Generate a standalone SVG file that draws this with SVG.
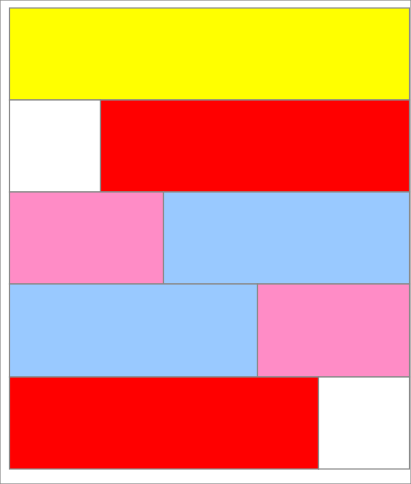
<svg xmlns="http://www.w3.org/2000/svg" width="411" height="484" viewBox="0 0 411 484">
<style>
rect{stroke:#8a8a8a;stroke-width:1.2}
.y{fill:#ffff00}.r{fill:#ff0000}.w{fill:#ffffff}.p{fill:#ff8cc6}.b{fill:#99c9ff}
</style>
<rect x="0" y="0" width="411" height="484" fill="#fff" stroke="none"/>
<g id="row1"><rect class="y" x="9.5" y="8" width="400" height="92"/></g>
<g id="row2"><rect class="w" x="9.5" y="100" width="91" height="92"/><rect class="r" x="100.5" y="100" width="309" height="92"/></g>
<g id="row3"><rect class="p" x="9.5" y="192" width="154" height="92"/><rect class="b" x="163.5" y="192" width="246" height="92"/></g>
<g id="row4"><rect class="b" x="9.5" y="284" width="248" height="93"/><rect class="p" x="257.5" y="284" width="152" height="93"/></g>
<g id="row5"><rect class="r" x="9.5" y="377" width="309" height="92"/><rect class="w" x="318.5" y="377" width="91" height="92"/></g>
</svg>
